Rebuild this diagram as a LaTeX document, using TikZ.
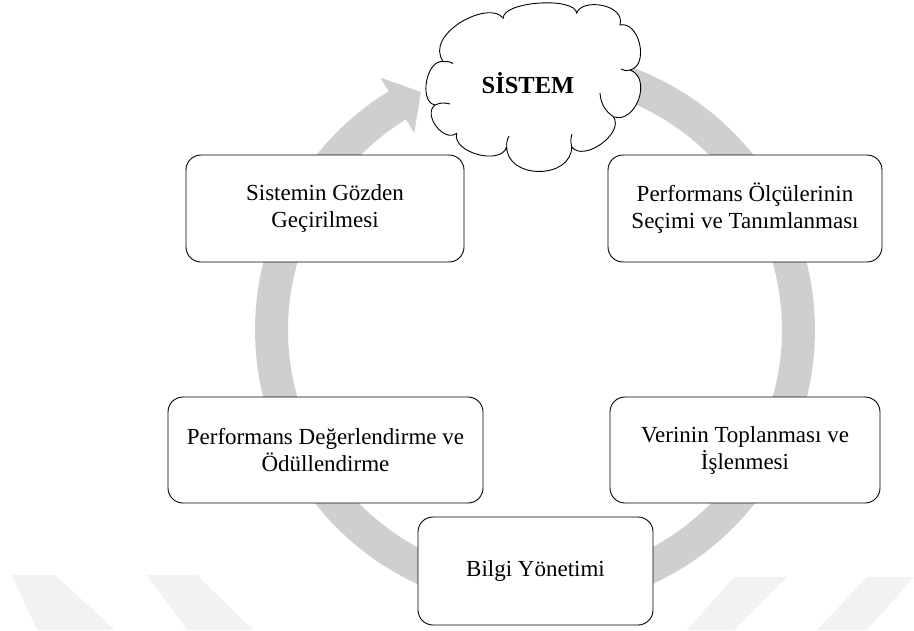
\documentclass[tikz,border=0pt]{standalone}
\usepackage{fontspec}
\setmainfont{Liberation Serif}
\usetikzlibrary{calc}
\definecolor{ringgray}{RGB}{206,207,209}
\definecolor{markgray}{RGB}{242,242,242}
\begin{document}
\begin{tikzpicture}[x=1pt,y=-1pt,
  stage/.style={draw=black, line width=0.9pt, fill=white, rounded corners=15pt,
    align=center, inner sep=0pt, font=\fontsize{23}{27}\selectfont},
  cloudline/.style={draw=black, line width=0.9pt, line join=round},
  headline/.style={font=\bfseries\fontsize{24.5}{28}\selectfont}]
\useasboundingbox (0,0) rectangle (914,630);

% faint stripes along the lower edge
\fill[markgray] (12,575) -- (55,575) -- (115,630) -- (37,630) -- cycle;
\fill[markgray] (147,575) -- (197,575) -- (253,630) -- (187,630) -- cycle;
\fill[markgray] (734,577) -- (787,577) -- (734,630) -- (687,630) -- cycle;
\fill[markgray] (867,577) -- (914,577) -- (867,630) -- (817,630) -- cycle;

% circular arrow running clockwise round the stages
\begin{scope}[shift={(535,330)}]
  \fill[ringgray]
    plot[domain=-85:238.5, samples=180] (\x:280)
    -- (238.5:296) -- (244.4:264) -- (238.5:231)
    -- plot[domain=238.5:-85, samples=180] (\x:247) -- cycle;
\end{scope}

% the system cloud: junctions between the puffs, clockwise from the left
\coordinate (ja) at (443.3,61.7);
\coordinate (jb) at (503.3,18.3);
\coordinate (jc) at (576.7,13.3);
\coordinate (jd) at (620,25);
\coordinate (je) at (630,70);
\coordinate (jf) at (613.3,116.7);
\coordinate (jg) at (571.7,146.7);
\coordinate (jh) at (506.7,146.7);
\coordinate (ji) at (456.7,133.3);
\coordinate (jj) at (435,105);
\path[cloudline, fill=white]
  (ja) .. controls ($(ja)!34pt!90:(jb)$) and ($(jb)!24pt!-90:(ja)$) .. (jb)
       .. controls ($(jb)!17pt!90:(jc)$) and ($(jc)!17pt!-90:(jb)$) .. (jc)
       .. controls ($(jc)!16pt!90:(jd)$) and ($(jd)!22pt!-90:(jc)$) .. (jd)
       .. controls ($(jd)!20pt!90:(je)$) and ($(je)!20pt!-90:(jd)$) .. (je)
       .. controls ($(je)!24pt!90:(jf)$) and ($(jf)!24pt!-90:(je)$) .. (jf)
       .. controls ($(jf)!20pt!90:(jg)$) and ($(jg)!20pt!-90:(jf)$) .. (jg)
       .. controls ($(jg)!33pt!90:(jh)$) and ($(jh)!33pt!-90:(jg)$) .. (jh)
       .. controls ($(jh)!20pt!90:(ji)$) and ($(ji)!20pt!-90:(jh)$) .. (ji)
       .. controls ($(ji)!16pt!90:(jj)$) and ($(jj)!16pt!-90:(ji)$) .. (jj)
       .. controls ($(jj)!17pt!90:(ja)$) and ($(ja)!17pt!-90:(jj)$) .. (ja)
  -- cycle;
% inner strokes where puffs overlap
\draw[cloudline] (ja) to[bend left=20] (453,63.5);
\draw[cloudline] (jj) to[bend left=20] (450,104);
\draw[cloudline] (jh) to[bend left=15] (509,136);
\draw[cloudline] (jg) to[bend left=15] (572,134);
\draw[cloudline] (jf) to[bend left=25] (600,93);
\draw[cloudline] (je) to[bend left=25] (621,69);
\node[headline] (sys) at (528,83) {SİSTEM};

% stages
\node[stage, minimum width=278pt, minimum height=107pt] (sgg) at (325,208.5)
  {Sistemin Gözden\\Geçirilmesi};
\node[stage, minimum width=274pt, minimum height=107pt] (pos) at (745,208.5)
  {Performans Ölçülerinin\\Seçimi ve Tanımlanması};
\node[stage, minimum width=315pt, minimum height=106pt] (pdo) at (325.5,450)
  {Performans Değerlendirme ve\\Ödüllendirme};
\node[stage, minimum width=270pt, minimum height=106pt] (vti) at (745,450)
  {Verinin Toplanması ve\\İşlenmesi};
\node[stage, minimum width=235pt, minimum height=108pt] (by) at (535.5,571)
  {Bilgi Yönetimi};
\end{tikzpicture}
\end{document}
